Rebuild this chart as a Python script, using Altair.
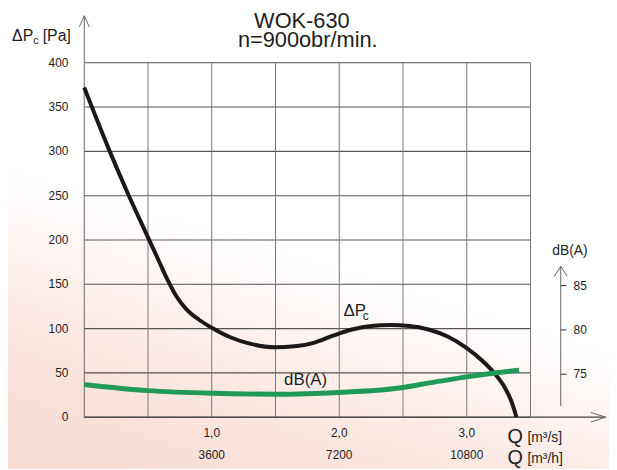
import altair as alt
import pandas as pd

# ---- data ----
# Total pressure curve ΔPc [Pa] vs air flow Q [m3/s]
dp_q = [0.0, 0.2, 0.35, 0.5, 0.58, 0.65, 0.72, 0.8, 0.9, 1.0, 1.15, 1.3, 1.5,
        1.65, 1.8, 1.95, 2.1, 2.25, 2.4, 2.55, 2.7, 2.85, 3.0, 3.12, 3.22,
        3.3, 3.35, 3.39]
dp_pa = [372, 300, 250, 203, 178, 156, 137, 122, 110, 101, 90, 83, 79,
         80, 84, 92, 99, 103, 104, 103, 99, 91, 78, 64, 49,
         33, 18, 0]

# Noise level curve dB(A) vs Q [m3/s]
db_q = [0.0, 0.5, 1.0, 1.5, 2.0, 2.47, 2.72, 2.97, 3.22, 3.41]
db_val = [73.85, 73.15, 72.85, 72.75, 72.95, 73.45, 74.05, 74.65, 75.15, 75.45]

# axes / grid
pa_ticks = [0, 50, 100, 150, 200, 250, 300, 350, 400]
pa_tick_labels = [str(v) for v in pa_ticks]
q_grid = [0.5, 1.0, 1.5, 2.0, 2.5, 3.0, 3.5]
q_ticks = [1.0, 2.0, 3.0]
q_labels_s = ["1,0", "2,0", "3,0"]
q_labels_h = ["3600", "7200", "10800"]
db_ticks = [75, 80, 85]
db_tick_labels = ["75", "80", "85"]

title_lines = ["WOK-630", "n=900obr/min."]

# ---- styling ----
FONT = "Liberation Sans"
TXT = "#1e1e1e"
HGRID = "#555555"
VGRID = "#777777"
AXC = "#666666"
BLACK = "#1b1818"
GREEN = "#1f9a58"

W, H = 528, 358
PAD = {"left": 77, "top": 53, "right": 2, "bottom": 52}
xs = alt.Scale(domain=[0, 4.1], nice=False, zero=False)
ys = alt.Scale(domain=[0, 400], nice=False, zero=False)
ds = alt.Scale(domain=[70.15, 110.15], nice=False, zero=False)

GRID_END = q_grid[-1]
Q_RIGHT_AXIS = 3.737


def X(field):
    return alt.X(field, type="quantitative", scale=xs, axis=None)


def Y(field, scale=ys):
    return alt.Y(field, type="quantitative", scale=scale, axis=None)


# faint warm paper tint of the scanned sheet (background only)
paper = alt.Chart(pd.DataFrame({"k": [0]})).mark_rect(
    color=alt.Gradient(
        gradient="linear", x1=0.6, y1=0, x2=0.2, y2=1,
        stops=[alt.GradientStop(color="#ffffff", offset=0),
               alt.GradientStop(color="#ffffff", offset=0.5),
               alt.GradientStop(color="#fbebe6", offset=0.75),
               alt.GradientStop(color="#f6dcd3", offset=1)]),
    opacity=1,
).encode(x=alt.value(-PAD["left"]), x2=alt.value(W + PAD["right"]),
         y=alt.value(-PAD["top"]), y2=alt.value(H + PAD["bottom"]))

# horizontal grid lines
hgrid_df = pd.DataFrame({"pa": pa_ticks, "t": pa_tick_labels, "x0": 0.0, "x1": GRID_END})
hgrid = alt.Chart(hgrid_df).mark_rule(color=HGRID, strokeWidth=1.1).encode(
    x=X("x0"), x2="x1", y=Y("pa"))
# left axis tick labels
ylabels = alt.Chart(hgrid_df).mark_text(
    font=FONT, fontSize=12, color=TXT, align="right", baseline="middle", dx=-16
).encode(x=X("x0"), y=Y("pa"), text="t:N")

# vertical grid lines
vgrid_df = pd.DataFrame({"q": q_grid, "y0": 0, "y1": pa_ticks[-1]})
vgrid = alt.Chart(vgrid_df).mark_rule(color=VGRID, strokeWidth=1).encode(
    x=X("q"), y=Y("y0"), y2="y1")

# x axis line with arrow
xaxis_df = pd.DataFrame({"x0": [0.0], "x1": [4.09], "pa": [0]})
xaxis = alt.Chart(xaxis_df).mark_rule(color="#444444", strokeWidth=1.3).encode(
    x=X("x0"), x2="x1", y=Y("pa"))
xarrow = alt.Chart(xaxis_df).mark_point(
    shape="M -1 -0.32 L 0 0 L -1 0.32", filled=False, stroke=AXC, strokeWidth=1, size=900, opacity=1
).encode(x=X("x1"), y=Y("pa"))

# left y axis line with arrow
yaxis_df = pd.DataFrame({"q": [0.0], "y0": [0], "y1": [453]})
yaxis = alt.Chart(yaxis_df).mark_rule(color=AXC, strokeWidth=1).encode(
    x=X("q"), y=Y("y0"), y2="y1")
yarrow = alt.Chart(yaxis_df).mark_point(
    shape="M -0.45 1 L 0 0 L 0.45 1", filled=False, stroke=AXC, strokeWidth=1, size=484, opacity=1
).encode(x=X("q"), y=Y("y1"))

# curves
dp_df = pd.DataFrame({"q": dp_q, "pa": dp_pa})
dp_line = alt.Chart(dp_df).mark_line(color=BLACK, strokeWidth=4, interpolate="monotone").encode(
    x=X("q"), y=Y("pa"))

db_df = pd.DataFrame({"q": db_q, "db": db_val})
db_line = alt.Chart(db_df).mark_line(color=GREEN, strokeWidth=5, interpolate="monotone").encode(
    x=X("q"), y=Y("db", scale=ds))

# right dB(A) axis
raxis_df = pd.DataFrame({"q": [Q_RIGHT_AXIS], "d0": [71.38], "d1": [87.17]})
raxis = alt.Chart(raxis_df).mark_rule(color=AXC, strokeWidth=1).encode(
    x=X("q"), y=Y("d0", scale=ds), y2="d1")
rarrow = alt.Chart(raxis_df).mark_point(
    shape="M -0.65 1 L 0 0 L 0.65 1", filled=False, stroke=AXC, strokeWidth=1, size=400, opacity=1
).encode(x=X("q"), y=Y("d1", scale=ds))

rtick_df = pd.DataFrame({"db": db_ticks, "t": db_tick_labels,
                         "q0": Q_RIGHT_AXIS, "q1": Q_RIGHT_AXIS + 0.045})
rticks = alt.Chart(rtick_df).mark_rule(color="#333333", strokeWidth=1).encode(
    x=X("q0"), x2="q1", y=Y("db", scale=ds))
rlabels = alt.Chart(rtick_df).mark_text(
    font=FONT, fontSize=12, color=TXT, align="left", baseline="middle", dx=13
).encode(x=X("q0"), y=Y("db", scale=ds), text="t:N")
rtitle = alt.Chart(pd.DataFrame({"q": [3.809], "db": [88.47], "t": ["dB(A)"]})).mark_text(
    font=FONT, fontSize=14, color=TXT, align="center", baseline="alphabetic"
).encode(x=X("q"), y=Y("db", scale=ds), text="t:N")


def texts(rows, size, align="left", baseline="alphabetic"):
    df = pd.DataFrame(rows, columns=["q", "pa", "t"])
    return alt.Chart(df).mark_text(
        font=FONT, fontSize=size, color=TXT, align=align, baseline=baseline
    ).encode(x=X("q"), y=Y("pa"), text="t:N")


# x tick labels (two rows)
xl1 = texts([(q, -18, s) for q, s in zip(q_ticks, q_labels_s)], 12, "center", "middle")
xl2 = texts([(q, -42.5, s) for q, s in zip(q_ticks, q_labels_h)], 12, "center", "middle")

# unit labels bottom right
qbig = texts([(3.32, -29.5, "Q"), (3.32, -53.0, "Q")], 20)
qunits = texts([(3.476, -28.5, "[m³/s]"), (3.476, -52.0, "[m³/h]")], 14)

# title
t1 = texts([(1.707, 439.0, title_lines[0])], 22, "center")
t2 = texts([(1.753, 418.0, title_lines[1])], 22, "center")

# left axis title  ΔPc [Pa]
ytit = texts([(-0.566, 424.6, "ΔP"), (-0.326, 424.6, "[Pa]")], 16)
ytit_c = texts([(-0.40, 421.0, "c")], 11)

# curve labels
dp_lab = texts([(2.033, 114.0, "ΔP")], 17)
dp_lab_c = texts([(2.185, 109.5, "c")], 12)
db_lab = texts([(1.567, 36.0, "dB(A)")], 17)

chart = alt.layer(
    paper, hgrid, ylabels, vgrid, xaxis, xarrow, yaxis, yarrow,
    dp_line, db_line,
    raxis, rarrow, rticks, rlabels, rtitle,
    xl1, xl2, qbig, qunits, t1, t2, ytit, ytit_c, dp_lab, dp_lab_c, db_lab,
).resolve_scale(y="independent").properties(
    width=W, height=H,
    padding=PAD,
    autosize=alt.AutoSizeParams(type="none"),
    background="white",
).configure_view(stroke=None)

chart.save("out.html", embed_options={"renderer": "svg", "actions": False})
